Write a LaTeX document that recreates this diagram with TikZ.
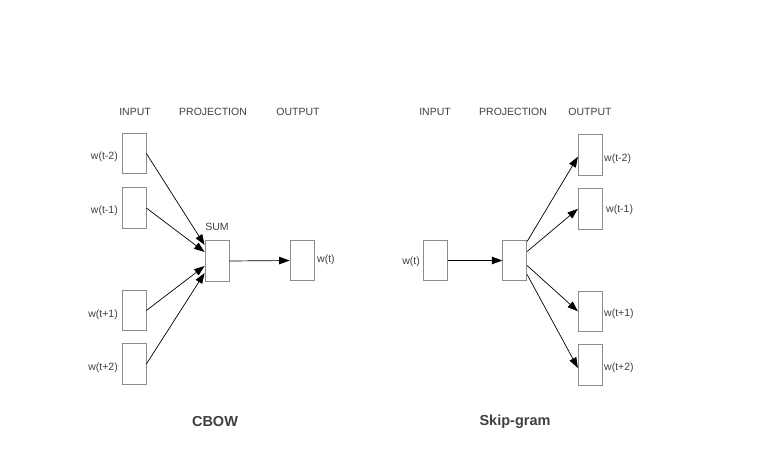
\documentclass[tikz,border=0pt]{standalone}
\usepackage{fontspec}
\setmainfont{Liberation Sans}
\usetikzlibrary{arrows.meta,calc}
\definecolor{txt}{HTML}{404040}
\definecolor{boxc}{HTML}{8C8C8C}
\begin{document}
\begin{tikzpicture}[x=1pt,y=-1pt,
  vbox/.style={draw=boxc,line width=0.8pt,fill=white,minimum width=24pt,minimum height=40.5pt,inner sep=0pt},
  lbl/.style={text=txt,font=\fontsize{10.5}{12}\selectfont,inner sep=0pt,yshift=-1.5pt},
  captxt/.style={text=txt,font=\fontsize{14.5}{16}\selectfont\bfseries,inner sep=0pt},
  arr/.style={draw=black,line width=0.7pt,-{Triangle[length=10.5pt,width=7.5pt]}}]
\useasboundingbox[fill=white] (0,0) rectangle (760,471);
% ---------- CBOW ----------
\node[lbl] (hi1) at (135,110) {INPUT};
\node[lbl] (hp1) at (213,110) {PROJECTION};
\node[lbl] (ho1) at (298,110) {OUTPUT};
\node[vbox] (a1) at (134,153.5) {};
\node[vbox] (a2) at (134,208) {};
\node[vbox] (a3) at (134,310.5) {};
\node[vbox] (a4) at (134,364) {};
\node[vbox] (s) at (217,261) {};
\node[vbox] (o) at (302,260.5) {};
\node[lbl,anchor=east] (la1) at (118,155) {w(t-2)};
\node[lbl,anchor=east] (la2) at (118,209) {w(t-1)};
\node[lbl,anchor=east] (la3) at (118,313) {w(t+1)};
\node[lbl,anchor=east] (la4) at (118,366) {w(t+2)};
\node[lbl] (sum) at (217,225) {SUM};
\node[lbl,anchor=west] (lo) at (317,258) {w(t)};
\draw[arr] (a1.east) -- ($(s.west)+(0,-16)$);
\draw[arr] (a2.east) -- ($(s.west)+(0,-9)$);
\draw[arr] (a3.east) -- ($(s.west)+(0,5)$);
\draw[arr] (a4.east) -- ($(s.west)+(0,12)$);
\draw[arr] (s.east) -- (o.west);
\node[captxt] (c1) at (215,422) {CBOW};
% ---------- Skip-gram ----------
\node[lbl] (hi2) at (435,110) {INPUT};
\node[lbl] (hp2) at (513,110) {PROJECTION};
\node[lbl] (ho2) at (590,110) {OUTPUT};
\node[vbox] (i) at (435.5,260.5) {};
\node[vbox] (p) at (514.7,260.5) {};
\node[vbox] (b1) at (590.3,154.7) {};
\node[vbox] (b2) at (590.3,208.8) {};
\node[vbox] (b3) at (590.3,311.3) {};
\node[vbox] (b4) at (590.3,365) {};
\node[lbl,anchor=east] (li) at (420,260) {w(t)};
\node[lbl,anchor=west] (lb1) at (604,157) {w(t-2)};
\node[lbl,anchor=west] (lb2) at (606,208) {w(t-1)};
\node[lbl,anchor=west] (lb3) at (604,312) {w(t+1)};
\node[lbl,anchor=west] (lb4) at (604,366) {w(t+2)};
\draw[arr] (i.east) -- (p.west);
\draw[arr] ($(p.east)+(0,-19)$) -- ($(b1.west)+(0,2)$);
\draw[arr] ($(p.east)+(0,-9)$) -- (b2.west);
\draw[arr] ($(p.east)+(0,5)$) -- (b3.west);
\draw[arr] ($(p.east)+(0,14)$) -- ($(b4.west)+(0,3)$);
\node[captxt] (c2) at (515,422) {Skip-gram};
\end{tikzpicture}
\end{document}
